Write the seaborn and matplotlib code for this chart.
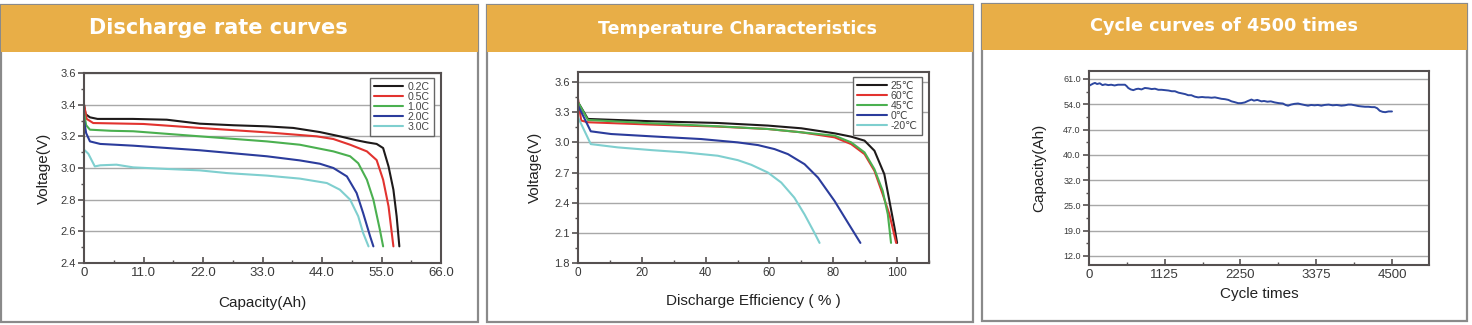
import numpy as np
import pandas as pd
import matplotlib
matplotlib.use("Agg")
import matplotlib.pyplot as plt
from matplotlib.patches import Rectangle
from matplotlib.ticker import AutoMinorLocator
import seaborn as sns

# ---------------- data ----------------
# Discharge rate curves: capacity (Ah) vs voltage (V)
rate_labels = ["0.2C", "0.5C", "1.0C", "2.0C", "3.0C"]
cap_02 = [0, 0.3, 1.1, 2.5, 9.0, 15.3, 21.4, 27.6, 33.8, 38.7, 43.6, 47.3, 50.4, 52.3, 54.1, 55.3, 56.3, 57.2, 57.8, 58.3]
volt_02 = [3.40, 3.34, 3.32, 3.31, 3.31, 3.305, 3.28, 3.27, 3.263, 3.253, 3.227, 3.20, 3.175, 3.162, 3.152, 3.126, 3.01, 2.863, 2.695, 2.505]
cap_05 = [0, 0.5, 1.7, 11.0, 21.4, 33.8, 43.0, 46.1, 49.2, 52.3, 54.1, 55.3, 56.3, 57.2]
volt_05 = [3.40, 3.31, 3.284, 3.278, 3.253, 3.225, 3.20, 3.183, 3.147, 3.105, 3.05, 2.926, 2.758, 2.505]
cap_10 = [0, 0.4, 1.1, 5.0, 9.1, 21.4, 33.8, 39.9, 46.1, 49.2, 50.7, 52.3, 53.5, 54.7, 55.3]
volt_10 = [3.35, 3.27, 3.242, 3.235, 3.232, 3.20, 3.168, 3.147, 3.105, 3.074, 3.03, 2.926, 2.80, 2.61, 2.505]
cap_20 = [0, 0.4, 1.1, 3.0, 9.1, 21.4, 33.8, 39.9, 43.6, 46.1, 48.6, 50.4, 51.6, 52.9, 53.5]
volt_20 = [3.30, 3.22, 3.168, 3.152, 3.141, 3.112, 3.074, 3.048, 3.027, 3.00, 2.947, 2.842, 2.716, 2.568, 2.505]
cap_30 = [0, 0.8, 2.0, 3.0, 6.0, 9.1, 15.3, 21.4, 26.4, 33.8, 39.9, 44.9, 47.3, 49.2, 50.7, 51.6, 52.6]
volt_30 = [3.116, 3.09, 3.01, 3.017, 3.021, 3.004, 2.994, 2.985, 2.968, 2.952, 2.933, 2.905, 2.863, 2.80, 2.695, 2.59, 2.505]

# Temperature characteristics: discharge efficiency (%) vs voltage (V)
temp_labels = ["25\u2103", "60\u2103", "45\u2103", "0\u2103", "-20\u2103"]
eff_25 = [0, 3.1, 23.0, 43.8, 59.5, 70.0, 80.4, 85.6, 89.8, 92.9, 96.0, 97.6, 99.2, 100.0]
volt_25 = [3.40, 3.233, 3.21, 3.193, 3.167, 3.14, 3.09, 3.057, 3.017, 2.917, 2.683, 2.417, 2.15, 2.0]
eff_60 = [0, 1.0, 3.1, 23.0, 43.8, 59.5, 70.0, 80.4, 85.6, 89.8, 92.9, 95.5, 97.6, 98.6, 99.7]
volt_60 = [3.433, 3.217, 3.20, 3.177, 3.157, 3.133, 3.10, 3.05, 2.983, 2.883, 2.717, 2.483, 2.283, 2.15, 2.0]
eff_45 = [0, 3.1, 23.0, 43.8, 59.5, 70.0, 80.4, 85.6, 89.8, 92.9, 95.5, 97.1, 98.1]
volt_45 = [3.40, 3.223, 3.19, 3.16, 3.133, 3.10, 3.067, 3.0, 2.90, 2.733, 2.517, 2.283, 2.0]
eff_0 = [0, 4.0, 10.4, 23.0, 38.6, 50.0, 56.4, 61.6, 65.8, 71.0, 75.2, 80.4, 84.6, 88.5]
volt_0 = [3.367, 3.11, 3.083, 3.06, 3.033, 3.0, 2.973, 2.933, 2.883, 2.783, 2.65, 2.417, 2.20, 2.0]
eff_m20 = [0, 4.0, 12.5, 23.0, 33.4, 43.8, 50.1, 54.3, 59.5, 63.7, 67.8, 71.0, 74.1, 75.7]
volt_m20 = [3.25, 2.983, 2.95, 2.923, 2.90, 2.867, 2.823, 2.777, 2.70, 2.60, 2.45, 2.283, 2.10, 2.0]

# Cycle life: cycle count vs capacity (Ah)
cycles = [0, 30, 60, 89, 120, 160, 200, 240, 287, 330, 380, 430, 500, 534, 560, 583, 620, 658, 700,
          732, 780, 830, 880, 930, 980, 1030, 1078, 1130, 1180, 1230, 1276, 1330, 1380, 1430, 1473,
          1520, 1570, 1622, 1680, 1730, 1770, 1820, 1870, 1920, 1968, 2020, 2070, 2117, 2160, 2215,
          2260, 2314, 2360, 2413, 2450, 2500, 2562, 2600, 2650, 2700, 2759, 2820, 2880, 2920, 2957,
          3000, 3050, 3105, 3150, 3200, 3253, 3300, 3350, 3400, 3450, 3500, 3560, 3620, 3680, 3748,
          3800, 3850, 3896, 3950, 4000, 4045, 4100, 4150, 4200, 4243, 4280, 4318, 4360, 4400, 4450, 4500]
capacity = [59.1, 59.4, 59.7, 59.9, 59.6, 59.8, 59.3, 59.5, 59.3, 59.4, 59.2, 59.4, 59.4, 59.4, 59.0, 58.5,
            58.1, 57.9, 58.2, 58.3, 58.1, 58.5, 58.4, 58.2, 58.3, 58.0, 58.0, 57.9, 57.8, 57.6, 57.6,
            57.2, 57.0, 56.8, 56.5, 56.5, 56.1, 55.9, 56.0, 55.9, 55.9, 55.8, 55.9, 55.7, 55.5, 55.4,
            55.2, 54.8, 54.6, 54.3, 54.3, 54.5, 54.9, 55.3, 55.0, 55.2, 54.8, 54.9, 54.7, 54.8, 54.5,
            54.3, 54.2, 53.8, 53.6, 53.9, 54.1, 54.2, 54.0, 53.8, 53.6, 53.8, 53.7, 53.8, 53.6, 53.8,
            53.9, 53.7, 53.8, 53.6, 53.7, 53.9, 53.9, 53.7, 53.5, 53.4, 53.3, 53.3, 53.2, 53.2, 52.9,
            52.2, 51.9, 51.8, 52.0, 52.0]
cap_tick_vals = [12, 19, 26, 33, 40, 47, 54, 61]
cap_tick_labels = ["12.0", "19.0", "25.0", "32.0", "40.0", "47.0", "54.0", "61.0"]

# ---------------- figure ----------------
sns.set_theme(style="white")
plt.rcParams["font.family"] = ["Liberation Sans", "DejaVu Sans"]

W, H = 1472, 325
fig = plt.figure(figsize=(W / 100, H / 100), dpi=100)
fig.patch.set_facecolor("white")

ORANGE = "#E8AE47"
FRAME = "#8a8a8a"
TXT = "#3a3a3a"


def fx(px):
    return px / W


def fy(py):
    return 1 - py / H


def panel_box(x0, x1, y0, y1, header_bottom, title, title_x, title_y, title_size):
    fig.patches.append(Rectangle((fx(x0), fy(y1)), fx(x1 - x0), (y1 - y0) / H,
                                 transform=fig.transFigure, facecolor="white",
                                 edgecolor=FRAME, linewidth=1.6, zorder=-2))
    fig.patches.append(Rectangle((fx(x0), fy(header_bottom)), fx(x1 - x0), (header_bottom - y0) / H,
                                 transform=fig.transFigure, facecolor=ORANGE,
                                 edgecolor="none", zorder=-1))
    fig.text(fx(title_x), fy(title_y), title, color="white", fontsize=title_size,
             fontweight="bold", family="DejaVu Sans", ha="center", va="center")


def make_axes(x0, x1, y0, y1):
    ax = fig.add_axes([fx(x0), fy(y1), fx(x1 - x0), (y1 - y0) / H])
    ax.set_facecolor("white")
    for s in ax.spines.values():
        s.set_color("#555050")
        s.set_linewidth(1.5)
    ax.yaxis.grid(True, color="#a8a8a8", linewidth=1.0)
    ax.xaxis.grid(False)
    ax.set_axisbelow(True)
    ax.xaxis.set_minor_locator(AutoMinorLocator(2))
    ax.yaxis.set_minor_locator(AutoMinorLocator(2))
    ax.tick_params(axis="y", which="major", direction="out", length=4, width=1.2,
                   color="#555050", labelcolor=TXT, pad=2, left=True)
    ax.tick_params(axis="y", which="minor", direction="out", length=2.5, width=1.0,
                   color="#555050", left=True)
    ax.tick_params(axis="x", which="major", direction="in", length=4, width=1.2,
                   color="#555050", labelcolor=TXT, pad=3, bottom=True)
    ax.tick_params(axis="x", which="minor", direction="in", length=2.5, width=1.0,
                   color="#555050", bottom=True)
    return ax


def style_legend(ax, anchor):
    handles, labels = ax.get_legend_handles_labels()
    leg = ax.legend(handles, labels, loc="upper right", bbox_to_anchor=anchor,
                    frameon=True, fancybox=False, fontsize=7.6, handlelength=2.8,
                    handletextpad=0.4, labelspacing=0.0, borderpad=0.4,
                    borderaxespad=0, framealpha=1)
    leg.get_frame().set_edgecolor("#666666")
    leg.get_frame().set_linewidth(1.0)
    for t in leg.get_texts():
        t.set_color("#444444")
    for ln in leg.get_lines():
        ln.set_linewidth(1.5)


line_colors = ["#1e1a1a", "#e2332f", "#4bb050", "#2b3c9c", "#7fcfcf"]

# ---- panel 1: discharge rate curves ----
panel_box(1, 478, 5, 322, 52, "Discharge rate curves", 218, 28, 15)
rate_df = pd.concat([
    pd.DataFrame({"Capacity": c, "Voltage": v, "Rate": lab})
    for c, v, lab in zip([cap_02, cap_05, cap_10, cap_20, cap_30],
                         [volt_02, volt_05, volt_10, volt_20, volt_30], rate_labels)
])
ax1 = make_axes(84, 441, 73, 263)
sns.lineplot(data=rate_df, x="Capacity", y="Voltage", hue="Rate", hue_order=rate_labels,
             palette=line_colors, linewidth=1.5, sort=False, ax=ax1)
ax1.set_xlim(0, 66)
ax1.set_ylim(2.4, 3.6)
ax1.set_xticks([0, 11, 22, 33, 44, 55, 66])
ax1.set_xticklabels(["0", "11.0", "22.0", "33.0", "44.0", "55.0", "66.0"], fontsize=9.5)
ax1.set_yticks([2.4, 2.6, 2.8, 3.0, 3.2, 3.4, 3.6])
ax1.set_yticklabels(["2.4", "2.6", "2.8", "3.0", "3.2", "3.4", "3.6"], fontsize=8)
ax1.set_xlabel("Capacity(Ah)", fontsize=11, color="#222222", labelpad=12)
ax1.set_ylabel("Voltage(V)", fontsize=11, color="#222222", labelpad=7)
style_legend(ax1, (0.98, 0.974))

# ---- panel 2: temperature characteristics ----
panel_box(487, 973, 5, 322, 52, "Temperature Characteristics", 738, 29, 12.5)
temp_df = pd.concat([
    pd.DataFrame({"Efficiency": e, "Voltage": v, "Temperature": lab})
    for e, v, lab in zip([eff_25, eff_60, eff_45, eff_0, eff_m20],
                         [volt_25, volt_60, volt_45, volt_0, volt_m20], temp_labels)
])
ax2 = make_axes(578, 929, 72, 263)
sns.lineplot(data=temp_df, x="Efficiency", y="Voltage", hue="Temperature",
             hue_order=temp_labels, palette=line_colors, linewidth=1.5, sort=False, ax=ax2)
ax2.set_xlim(0, 110)
ax2.set_ylim(1.8, 3.7)
ax2.set_xticks([0, 20, 40, 60, 80, 100])
ax2.set_xticklabels(["0", "20", "40", "60", "80", "100"], fontsize=8.5)
ax2.set_yticks([1.8, 2.1, 2.4, 2.7, 3.0, 3.3, 3.6])
ax2.set_yticklabels(["1.8", "2.1", "2.4", "2.7", "3.0", "3.3", "3.6"], fontsize=8)
ax2.set_xlabel("Discharge Efficiency ( % )", fontsize=11, color="#222222", labelpad=11)
ax2.set_ylabel("Voltage(V)", fontsize=11, color="#222222", labelpad=9)
style_legend(ax2, (0.98, 0.976))

# ---- panel 3: cycle life ----
panel_box(982, 1467, 4, 321, 50, "Cycle curves of 4500 times", 1224, 26, 12.7)
cycle_df = pd.DataFrame({"Cycle": cycles, "Capacity": capacity})
ax3 = make_axes(1089, 1429, 71, 265)
sns.lineplot(data=cycle_df, x="Cycle", y="Capacity", color="#2d47a0", linewidth=1.4, ax=ax3)
ax3.set_xlim(0, 5050)
ax3.set_ylim(9.5, 63.2)
ax3.set_xticks([0, 1125, 2250, 3375, 4500])
ax3.set_xticklabels(["0", "1125", "2250", "3375", "4500"], fontsize=9.5)
ax3.set_yticks(cap_tick_vals)
ax3.set_yticklabels(cap_tick_labels, fontsize=6.5)
ax3.set_xlabel("Cycle times", fontsize=11, color="#222222", labelpad=4)
ax3.set_ylabel("Capacity(Ah)", fontsize=11, color="#222222", labelpad=12)

fig.savefig("out.png", dpi=100, facecolor="white")
